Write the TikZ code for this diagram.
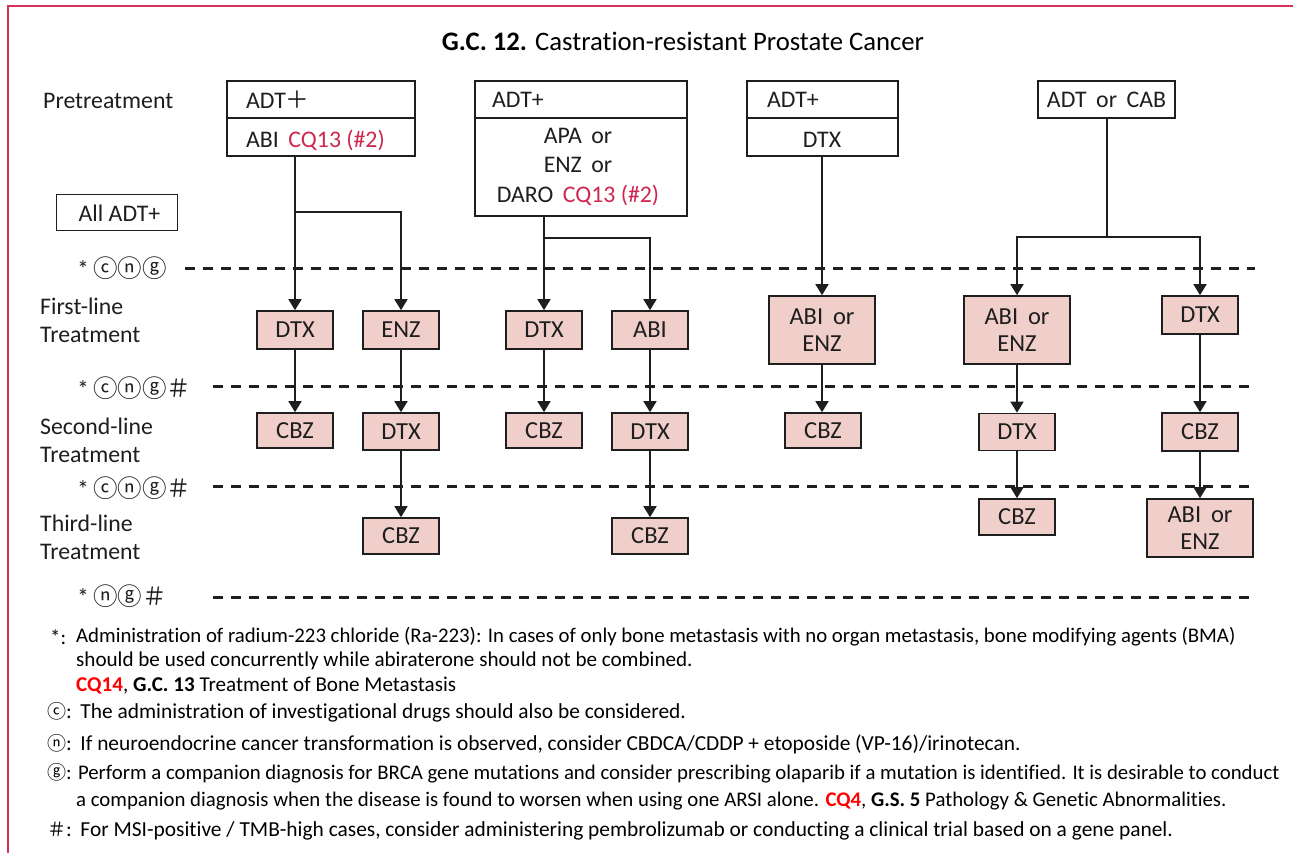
\documentclass[tikz,border=0pt]{standalone}
\usepackage{fontspec}
\setmainfont{Carlito}[Ligatures={NoCommon}]
\newfontfamily\cjk{Noto Sans CJK JP}
\usetikzlibrary{arrows.meta}
\definecolor{framecol}{RGB}{214,50,90}
\definecolor{cqcol}{RGB}{206,40,80}
\definecolor{redcq}{RGB}{255,0,0}
\definecolor{pinkfill}{RGB}{240,207,203}
\definecolor{ink}{RGB}{30,30,30}
\newcommand\labfont{\fontsize{23.8}{28}\selectfont}
\newcommand\notefont{\fontsize{20.8}{24}\selectfont}
\newcommand\circs[1]{{\cjk\fontsize{24.5}{26}\selectfont #1}}
\newcommand\ncircs[1]{{\cjk\fontsize{19}{24}\selectfont #1}}

\begin{document}
\begin{tikzpicture}[x=1pt,y=-1pt,
  lab/.style={font=\labfont, text=ink, inner sep=0pt, anchor=west},
  twolab/.style={font=\fontsize{23.8}{28}\selectfont, text=ink, inner sep=0pt, anchor=west, align=left},
  note/.style={font=\notefont, text=black, inner sep=0pt, anchor=west},
  notelg/.style={note, font=\fontsize{21.4}{24}\selectfont},
  prebox/.style={draw=ink, line width=1.8pt, fill=white, inner sep=0pt},
  pbox/.style={draw=ink, line width=1.6pt, fill=pinkfill, inner sep=0pt,
    align=center, font=\fontsize{24.5}{27}\selectfont, text=ink},
  conn/.style={draw=ink, line width=1.6pt},
  arr/.style={conn, -{Triangle[width=13pt,length=11pt]}},
  dashline/.style={draw=ink, line width=3pt, dash pattern=on 10pt off 8pt},
]
\useasboundingbox (0,0) rectangle (1293,853);
\fill[white] (0,0) rectangle (1293,853);
% page frame
\draw[framecol, line width=2pt] (1300,6) -- (8,6) -- (8,870);

% title
\node[inner sep=0pt, font=\fontsize{26.7}{30}\selectfont, text=black] (title) at (683,41)
  {\textbf{G.C. 12.} Castration-resistant Prostate Cancer};

% row labels
\node[lab] (lpre) at (43,101) {Pretreatment};
\node[draw=ink, line width=1pt, minimum width=121pt, minimum height=36pt,
  inner sep=0pt, font=\labfont, text=ink] (alladt) at (116.5,213) {\hspace{6pt}All ADT+};
\node[lab] (sym1) at (77,268) {*\,\circs{ⓒⓝⓖ}};
\node[twolab] (l1) at (40,320) {First-line\\Treatment};
\node[lab] (sym2) at (77,388) {*\,\circs{ⓒⓝⓖ＃}};
\node[twolab] (l2) at (40,440) {Second-line\\Treatment};
\node[lab] (sym3) at (77,488) {*\,\circs{ⓒⓝⓖ＃}};
\node[twolab] (l3) at (40,537) {Third-line\\Treatment};
\node[lab] (sym4) at (77,596) {*\,\circs{ⓝⓖ＃}};

% line separators
\draw[dashline] (185,268) -- (1255,268);
\draw[dashline] (213,386) -- (1255,386);
\draw[dashline] (213,486) -- (1255,486);
\draw[dashline] (213,597) -- (1255,597);

% pretreatment boxes
\node[prebox, minimum width=188pt, minimum height=75pt] (p1) at (321,118.5) {};
\draw[conn] (p1.west |- 0,118) -- (p1.east |- 0,118);
\node[lab] (p1t) at (246,100) {ADT{\cjk ＋}};
\node[lab] (p1b) at (246,140) {ABI\hspace{0.4em}\textcolor{cqcol}{CQ13 (\#2)}};

\node[prebox, minimum width=212pt, minimum height=135pt] (p2) at (581,148.5) {};
\draw[conn] (p2.west |- 0,118) -- (p2.east |- 0,118);
\node[lab] (p2t) at (492,100) {ADT+};
\node[inner sep=0pt, align=center, font=\fontsize{23.8}{29.5}\selectfont, text=ink] (p2b) at (578,167)
  {APA\hspace{0.4em}or\\ENZ\hspace{0.4em}or\\DARO\hspace{0.4em}\textcolor{cqcol}{CQ13 (\#2)}};

\node[prebox, minimum width=151pt, minimum height=75pt] (p3) at (822.5,118.5) {};
\draw[conn] (p3.west |- 0,118) -- (p3.east |- 0,118);
\node[lab] (p3t) at (767,100) {ADT+};
\node[inner sep=0pt, font=\labfont, text=ink] (p3b) at (822,140) {DTX};

\node[prebox, minimum width=137pt, minimum height=37pt, font=\labfont, text=ink] (p4) at (1106.5,99.5)
  {ADT\hspace{0.4em}or\hspace{0.4em}CAB};

% treatment boxes, column 1
\node[pbox, minimum width=76pt, minimum height=38pt] (a1) at (295,330) {DTX};
\node[pbox, minimum width=76pt, minimum height=38pt] (b1) at (401,330) {ENZ};
\node[pbox, minimum width=76pt, minimum height=35pt] (a2) at (295,430.5) {CBZ};
\node[pbox, minimum width=76pt, minimum height=37pt] (b2) at (401,431.5) {DTX};
\node[pbox, minimum width=76pt, minimum height=36pt] (b3) at (401,536) {CBZ};
% column 2
\node[pbox, minimum width=76pt, minimum height=38pt] (c1) at (544,330) {DTX};
\node[pbox, minimum width=76pt, minimum height=38pt] (d1) at (650,330) {ABI};
\node[pbox, minimum width=76pt, minimum height=35pt] (c2) at (544,430.5) {CBZ};
\node[pbox, minimum width=76pt, minimum height=37pt] (d2) at (650,431.5) {DTX};
\node[pbox, minimum width=76pt, minimum height=36pt] (d3) at (650,536) {CBZ};
% column 3
\node[pbox, minimum width=106pt, minimum height=68pt] (e1) at (822,330) {ABI\hspace{0.4em}or\\ENZ};
\node[pbox, minimum width=76pt, minimum height=35pt] (e2) at (823,430.5) {CBZ};
% column 4
\node[pbox, minimum width=106pt, minimum height=68pt] (f1) at (1017,330) {ABI\hspace{0.4em}or\\ENZ};
\node[pbox, minimum width=76pt, minimum height=38pt] (g1) at (1200,315) {DTX};
\node[pbox, minimum width=76pt, minimum height=37pt] (f2) at (1017,432) {DTX};
\node[pbox, minimum width=76pt, minimum height=38pt] (g2) at (1200,432) {CBZ};
\node[pbox, minimum width=76pt, minimum height=36pt] (f3) at (1017,517) {CBZ};
\node[pbox, minimum width=106pt, minimum height=58pt] (g3) at (1200,528) {ABI\hspace{0.4em}or\\ENZ};

% branch points
\coordinate (k1) at (295,212);
\coordinate (k2) at (544,238);
\coordinate (k4) at (1107,237);

% connectors from pretreatment
\draw[arr] (a1.north |- p1.south) -- (a1.north);
\draw[arr] (k1) -| (b1.north);
\draw[arr] (c1.north |- p2.south) -- (c1.north);
\draw[arr] (k2) -| (d1.north);
\draw[arr] (e1.north |- p3.south) -- (e1.north);
\draw[conn] (p4.south -| k4) -- (k4);
\draw[arr] (k4) -| (f1.north);
\draw[arr] (k4) -| (g1.north);

% connectors between lines of treatment
\draw[arr] (a1) -- (a2);
\draw[arr] (b1) -- (b2);
\draw[arr] (b2) -- (b3);
\draw[arr] (c1) -- (c2);
\draw[arr] (d1) -- (d2);
\draw[arr] (d2) -- (d3);
\draw[arr] (e1.south) -- (e2.north -| e1.south);
\draw[arr] (f1) -- (f2);
\draw[arr] (f2) -- (f3);
\draw[arr] (g1) -- (g2);
\draw[arr] (g2) -- (g3);

% footnotes
\node[note] (n1s) at (50,637) {*:};
\node[note] (n1a) at (76,637) {Administration of radium-223 chloride (Ra-223): In cases of only bone metastasis with no organ metastasis, bone modifying agents (BMA)};
\node[note, font=\fontsize{21.1}{24}\selectfont] (n1b) at (76,661) {should be used concurrently while abiraterone should not be combined.};
\node[note, font=\fontsize{21.1}{24}\selectfont] (n1c) at (76,686) {\textcolor{redcq}{\textbf{CQ14}}, \textbf{G.C. 13} Treatment of Bone Metastasis};
\node[notelg] (n2) at (47,712) {\ncircs{ⓒ}:\hspace{0.4em}The administration of investigational drugs should also be considered.};
\node[notelg] (n3) at (47,744) {\ncircs{ⓝ}:\hspace{0.4em}If neuroendocrine cancer transformation is observed, consider CBDCA/CDDP + etoposide (VP-16)/irinotecan.};
\node[note] (n4a) at (47,773) {\ncircs{ⓖ}:\hspace{0.3em}Perform a companion diagnosis for BRCA gene mutations and consider prescribing olaparib if a mutation is identified. It is desirable to conduct};
\node[note] (n4b) at (76,801) {a companion diagnosis when the disease is found to worsen when using one ARSI alone. \textcolor{redcq}{\textbf{CQ4}}, \textbf{G.S. 5} Pathology \& Genetic Abnormalities.};
\node[notelg] (n5) at (47,831) {\ncircs{＃}:\hspace{0.4em}For MSI-positive / TMB-high cases, consider administering pembrolizumab or conducting a clinical trial based on a gene panel.};
\end{tikzpicture}
\end{document}
